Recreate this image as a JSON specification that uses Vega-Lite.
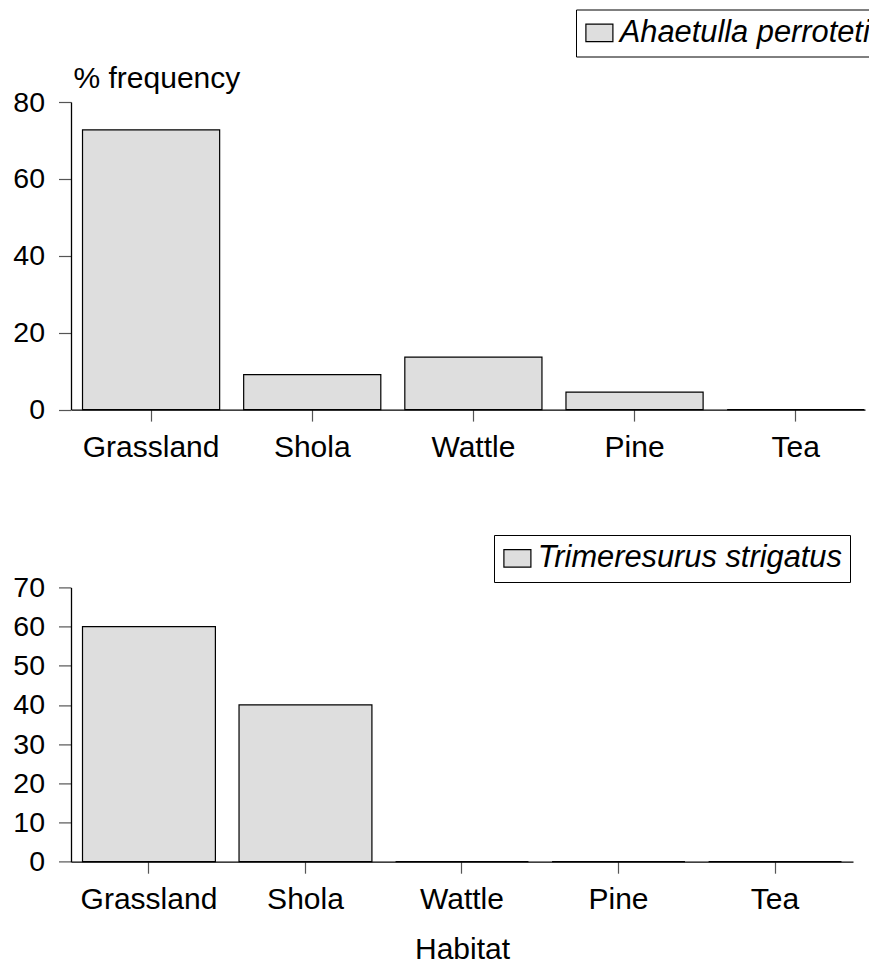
{
  "$schema": "https://vega.github.io/schema/vega-lite/v6.json",
  "padding": {"left": 12, "top": 9, "right": 0, "bottom": 0},
  "background": "white",
  "datasets": {
    "freq": [
      {"species": "Ahaetulla perroteti", "habitat": "Grassland", "pct": 72.73},
      {"species": "Ahaetulla perroteti", "habitat": "Shola", "pct": 9.09},
      {"species": "Ahaetulla perroteti", "habitat": "Wattle", "pct": 13.64},
      {"species": "Ahaetulla perroteti", "habitat": "Pine", "pct": 4.55},
      {"species": "Ahaetulla perroteti", "habitat": "Tea", "pct": 0},
      {"species": "Trimeresurus strigatus", "habitat": "Grassland", "pct": 60},
      {"species": "Trimeresurus strigatus", "habitat": "Shola", "pct": 40},
      {"species": "Trimeresurus strigatus", "habitat": "Wattle", "pct": 0},
      {"species": "Trimeresurus strigatus", "habitat": "Pine", "pct": 0},
      {"species": "Trimeresurus strigatus", "habitat": "Tea", "pct": 0}
    ]
  },
  "bounds": "flush",
  "spacing": 177.4,
  "vconcat": [
    {
      "width": 794,
      "height": 307.6,
      "data": {"name": "freq"},
      "transform": [{"filter": "datum.species === 'Ahaetulla perroteti'"}],
      "mark": {"type": "bar", "stroke": "black", "strokeWidth": 1.2},
      "encoding": {
        "x": {
          "field": "habitat", "type": "nominal", "sort": null,
          "scale": {"paddingInner": 0.149, "paddingOuter": 0.038, "align": 0.94},
          "axis": {"title": null}
        },
        "y": {
          "field": "pct", "type": "quantitative",
          "scale": {"domain": [0, 80], "nice": false},
          "axis": {
            "values": [0, 20, 40, 60, 80],
            "title": "% frequency",
            "titleAngle": 0, "titleAlign": "left", "titleBaseline": "alphabetic",
            "titleX": 2, "titleY": -15
          }
        },
        "fill": {
          "field": "species", "type": "nominal",
          "scale": {"domain": ["Ahaetulla perroteti"], "range": ["#dedede"]},
          "legend": {"title": null, "orient": "none", "legendX": 505, "legendY": -92.5}
        }
      }
    },
    {
      "width": 782,
      "height": 274.3,
      "data": {"name": "freq"},
      "transform": [{"filter": "datum.species === 'Trimeresurus strigatus'"}],
      "mark": {"type": "bar", "stroke": "black", "strokeWidth": 1.2},
      "encoding": {
        "x": {
          "field": "habitat", "type": "nominal", "sort": null,
          "scale": {"paddingInner": 0.151, "paddingOuter": 0.0735, "align": 0.5},
          "axis": {"title": "Habitat", "titlePadding": 20}
        },
        "y": {
          "field": "pct", "type": "quantitative",
          "scale": {"domain": [0, 70], "nice": false},
          "axis": {"values": [0, 10, 20, 30, 40, 50, 60, 70], "title": null}
        },
        "fill": {
          "field": "species", "type": "nominal",
          "scale": {"domain": ["Trimeresurus strigatus"], "range": ["#dedede"]},
          "legend": {"title": null, "orient": "none", "legendX": 423, "legendY": -52.4}
        }
      }
    }
  ],
  "resolve": {
    "scale": {"x": "independent", "y": "independent", "fill": "independent"},
    "legend": {"fill": "independent"}
  },
  "config": {
    "font": "Liberation Sans",
    "view": {"stroke": null},
    "axis": {
      "grid": false,
      "domainColor": "black",
      "domainWidth": 1.3,
      "tickColor": "#555555",
      "tickWidth": 1.2,
      "labelColor": "black",
      "titleColor": "black",
      "labelFont": "Liberation Sans",
      "titleFont": "Liberation Sans",
      "titleFontWeight": "normal",
      "titleFontSize": 30
    },
    "axisX": {"labelAngle": 0, "labelFontSize": 30, "tickSize": 11.5, "labelPadding": 11.5},
    "axisY": {"labelFontSize": 28.5, "tickSize": 12.5, "labelPadding": 14},
    "legend": {
      "labelFont": "Liberation Sans",
      "labelFontStyle": "italic",
      "labelFontSize": 30.8,
      "labelColor": "black",
      "labelOffset": 5,
      "labelLimit": 0,
      "padding": 8,
      "strokeColor": "black",
      "fillColor": "white",
      "symbolType": "M-1,-0.65L1,-0.65L1,0.65L-1,0.65Z",
      "symbolSize": 729,
      "symbolStrokeColor": "black",
      "symbolStrokeWidth": 1.2
    }
  }
}
